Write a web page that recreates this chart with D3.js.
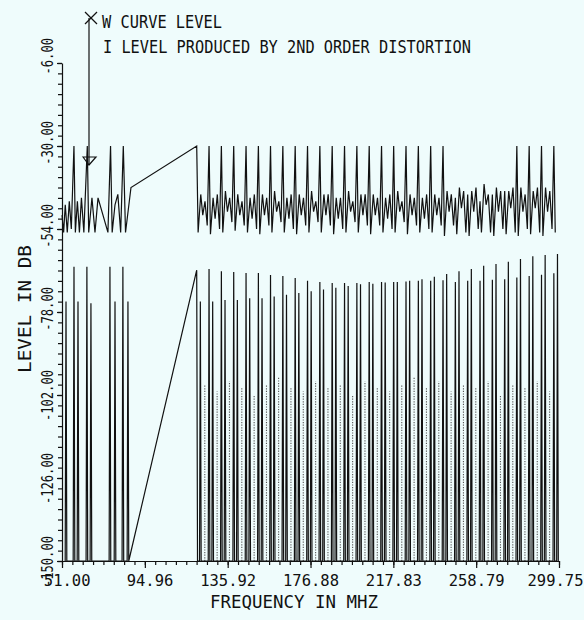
<!DOCTYPE html>
<html>
<head>
  <meta charset="utf-8">
  <script src="https://d3js.org/d3.v7.min.js"></script>
  <style>
  body { margin:0; background:#effcfc; }
  svg { display:block; }
  text { font-family:"DejaVu Sans Mono", monospace; fill:#111; }
  .axis path, .axis line { stroke:#111; stroke-width:1.2; }
  .trace { fill:none; stroke:#111; stroke-width:1.2; }
  .faint { stroke:#555; stroke-width:1.1; stroke-dasharray:1.2,1.4; }
  </style>
</head>
<body>
<script>
  // ---- values ----
  // frequency ticks are evenly spaced on paper, the first one is printed 51.00
  var xTickValues = [53.99, 94.96, 135.92, 176.88, 217.83, 258.79, 299.75];
  var xTickLabels = ["51.00", "94.96", "135.92", "176.88", "217.83", "258.79", "299.75"];
  var yTickValues = [-6, -30, -54, -78, -102, -126, -150];
  var yTickLabels = ["-6.00", "-30.00", "-54.00", "-78.00", "-102.00", "-126.00", "-150.00"];

  // W curve, low band (MHz / dB)
  var wLowFreq  = [54.0, 54.8, 55.6, 56.6, 57.6, 58.6, 59.9, 60.6, 61.6, 62.6, 63.6, 64.8, 66.5, 67.2, 68.8, 70.3, 71.8, 76.7, 78.0, 78.8, 80.2, 81.6, 83.0, 84.3, 85.4, 88.1];
  var wLowLevel = [-50, -55, -47, -55, -46, -54, -30, -55, -46, -55, -45, -55, -30, -55, -45, -55, -45, -55, -30, -55, -47, -44, -55, -30, -55, -42];

  // high band channels (MHz)
  var chanFreq = [120.6, 126.7, 132.8, 138.9, 145.0, 151.1, 157.1, 163.2, 169.3, 175.4,
                  181.5, 187.6, 193.7, 199.8, 205.9, 212.0, 218.0, 224.1, 230.2, 236.3,
                  242.4, 248.5, 254.6, 260.7, 266.8, 272.9, 278.9, 285.0, 291.1, 297.2];

  // W curve, high band: level at the carrier and the W shape that follows it
  var wTop = [-30, -30, -30, -30, -30, -30, -30, -30, -30, -30,
              -30, -30, -30, -30, -30, -30, -30, -30, -30, -30,
              -30, -45, -44, -46, -44, -43, -30, -30, -30, -30];
  var wLo1 = [-55, -55.5, -55, -54.5, -55, -55.5, -55, -55, -55.5, -55,
              -55, -55.5, -55, -55, -55.5, -55, -55, -55.5, -55, -55,
              -56, -55.5, -56, -55, -56, -55.5, -56, -55.5, -56, -55];
  var wHi1 = [-44, -45, -43, -44, -45, -44, -43, -45, -44, -43,
              -44, -45, -43, -44, -44, -45, -43, -44, -45, -44,
              -43, -42, -43, -41, -42, -43, -42, -43, -42, -41];
  var wMid = [-50, -51, -49, -50, -51, -50, -49, -51, -50, -49,
              -50, -51, -49, -50, -50, -51, -49, -50, -51, -50,
              -49, -48, -49, -47, -49, -48, -49, -48, -49, -48];
  var wHi2 = [-46, -44, -45, -46, -44, -45, -46, -44, -45, -46,
              -44, -45, -46, -44, -45, -44, -46, -45, -44, -45,
              -44, -43, -42, -44, -43, -42, -44, -42, -43, -42];
  var wLo2 = [-53, -54, -52, -53, -54, -53, -52, -54, -53, -52,
              -53, -54, -52, -53, -53, -54, -52, -53, -54, -53,
              -53, -55, -54, -55, -54, -55, -54, -55, -54, -53];
  var wOffsets = [0, 0.7, 2.0, 3.0, 4.1, 5.2];

  // 2nd order distortion, low band
  var dLowFreq  = [55.97, 59.92, 61.9, 66.3, 68.3, 77.7, 80.2, 84.1, 86.6];
  var dLowLevel = [-75, -64.9, -75, -64.9, -75.5, -64.9, -75, -64.9, -75];

  // 2nd order distortion, high band: line on the carrier (A), 1.8 MHz above (B), faint one 4 MHz above (C)
  var dHiA = [-65.9, -65.6, -66.2, -66.4, -66.7, -66.7, -67.3, -67.6, -68.2, -69.0,
              -69.3, -69.6, -69.6, -69.6, -69.3, -69.3, -69.3, -69.2, -69.0, -69.0,
              -68.8, -69.3, -69.0, -69.0, -68.7, -68.5, -68.0, -67.6, -67.2, -66.8];
  var dHiB = [-75, -75, -74.5, -74.5, -74, -74, -73.5, -73, -72.5, -72,
              -71.5, -71, -70.5, -70, -69.8, -69.5, -69.3, -69, -68.5, -67.8,
              -67, -66.2, -65.6, -64.6, -64.1, -63.5, -62.7, -61.9, -61.5, -61.2];
  var dHiC = [-99, -101, -98, -100, -102, -99, -97, -100, -101, -98,
              -100, -99, -102, -98, -100, -101, -99, -97, -100, -98,
              -101, -99, -100, -98, -102, -99, -100, -98, -101, -99];

  // ---- layout ----
  var margin = {top: 63, right: 25, bottom: 59, left: 62},
      width = 584 - margin.left - margin.right,
      height = 620 - margin.top - margin.bottom;

  var svg = d3.select("body").append("svg")
      .attr("width", 584)
      .attr("height", 620);
  var g = svg.append("g")
      .attr("transform", "translate(" + margin.left + "," + margin.top + ")");

  var x = d3.scaleLinear().domain([53.99, 299.75]).range([0, width]);
  var y = d3.scaleLinear().domain([-150, -6]).range([height, 0]);

  // ---- axes ----
  var xMinor = d3.range(0, 49).map(i => 53.99 + i * 5.12);
  g.append("g")
      .attr("class", "axis")
      .attr("transform", "translate(0," + height + ")")
      .call(d3.axisBottom(x).tickValues(xMinor).tickSize(4).tickSizeOuter(0).tickFormat(""));
  var xAx = g.append("g")
      .attr("class", "axis")
      .attr("transform", "translate(0," + height + ")")
      .call(d3.axisBottom(x).tickValues(xTickValues).tickSize(7).tickSizeOuter(0)
            .tickFormat((d, i) => xTickLabels[i]));
  xAx.select(".domain").remove();
  // labels sit right-aligned in a six character field centred on the tick
  xAx.selectAll("text")
      .attr("text-anchor", "end")
      .attr("x", d => Math.min(28, 583 - margin.left - x(d)))
      .attr("y", 25)
      .attr("dy", 0)
      .style("font-size", "15.5px");

  var yMinor = d3.range(-150, -5, 3);
  g.append("g")
      .attr("class", "axis")
      .call(d3.axisLeft(y).tickValues(yMinor).tickSize(4).tickSizeOuter(0).tickFormat(""));
  var yAx = g.append("g")
      .attr("class", "axis")
      .call(d3.axisLeft(y).tickValues(yTickValues).tickSize(5).tickSizeOuter(0)
            .tickFormat((d, i) => yTickLabels[i]));
  yAx.select(".domain").remove();
  yAx.selectAll("text")
      .attr("text-anchor", "end")
      .attr("transform", "rotate(-90)")
      .attr("x", 25.5)
      .attr("y", -9)
      .attr("dy", 0)
      .attr("textLength", (d, i) => yTickLabels[i].length * 7.3)
      .attr("lengthAdjust", "spacingAndGlyphs")
      .style("font-size", "16.5px");

  svg.append("text")
      .attr("x", 210).attr("y", 608)
      .attr("textLength", 168).attr("lengthAdjust", "spacingAndGlyphs")
      .style("font-size", "18px")
      .text("FREQUENCY IN MHZ");
  svg.append("text")
      .attr("transform", "translate(31,373) rotate(-90)")
      .attr("textLength", 128).attr("lengthAdjust", "spacingAndGlyphs")
      .style("font-size", "18px")
      .text("LEVEL IN DB");

  // ---- W curve ----
  var line = d3.line().x(d => x(d[0])).y(d => y(d[1]));

  var wPoints = wLowFreq.map((f, i) => [f, wLowLevel[i]]);
  chanFreq.forEach((f, k) => {
    var lv = [wTop[k], wLo1[k], wHi1[k], wMid[k], wHi2[k], wLo2[k]];
    wOffsets.forEach((o, j) => { if (f + o <= 298.5) wPoints.push([f + o, lv[j]]); });
  });
  g.append("path").attr("class", "trace").attr("d", line(wPoints));

  // ---- 2nd order distortion ----
  var spikes = dLowFreq.map((f, i) => [f, dLowLevel[i]]);
  chanFreq.forEach((f, k) => {
    spikes.push([f, dHiA[k]]);
    if (f + 1.8 <= 299.75) spikes.push([f + 1.8, dHiB[k]]);
  });
  var dPoints = [];
  spikes.forEach((s, i) => {
    var prev = spikes[i - 1];
    if (!prev || s[0] - prev[0] < 10) dPoints.push([s[0] - 0.4, -150]);
    dPoints.push(s);
    dPoints.push([s[0] + 0.4, -150]);
  });

  g.selectAll(".faint")
    .data(chanFreq.filter(f => f + 4 <= 299.75))
    .enter().append("line")
      .attr("class", "faint")
      .attr("x1", d => x(d + 4)).attr("x2", d => x(d + 4))
      .attr("y1", y(-150))
      .attr("y2", (d, i) => y(dHiC[i]));

  g.append("path").attr("class", "trace").attr("d", line(dPoints));

  // ---- legend ----
  var lg = svg.append("g").attr("class", "axis");
  lg.append("line").attr("x1", 85).attr("y1", 12).attr("x2", 97).attr("y2", 24);
  lg.append("line").attr("x1", 97).attr("y1", 12).attr("x2", 85).attr("y2", 24);
  lg.append("line").attr("x1", 89).attr("y1", 18).attr("x2", 89).attr("y2", 165);
  lg.append("path").attr("d", "M83,157 L89,165 L96,157 Z").attr("fill", "none");
  svg.append("text")
      .attr("x", 102).attr("y", 28)
      .attr("textLength", 120).attr("lengthAdjust", "spacingAndGlyphs")
      .style("font-size", "17px")
      .text("W CURVE LEVEL");
  svg.append("text")
      .attr("x", 103).attr("y", 53)
      .attr("textLength", 368).attr("lengthAdjust", "spacingAndGlyphs")
      .style("font-size", "17px")
      .text("I LEVEL PRODUCED BY 2ND ORDER DISTORTION");
</script>
</body>
</html>
